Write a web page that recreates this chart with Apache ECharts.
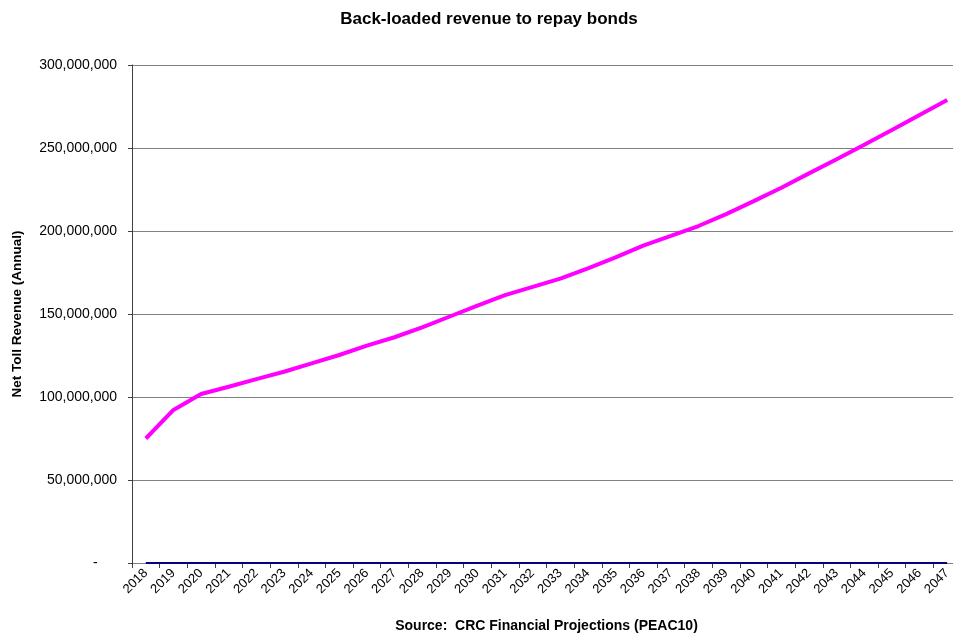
<!DOCTYPE html>
<html>
<head>
<meta charset="utf-8">
<script src="https://cdn.jsdelivr.net/npm/echarts@6/dist/echarts.min.js"></script>
<style>
html,body{margin:0;padding:0;background:#fff;overflow:hidden;}
#chart{width:953px;height:636px;}
</style>
</head>
<body>
<div id="chart"></div>
<script>
const years = ['2018','2019','2020','2021','2022','2023','2024','2025','2026','2027',
  '2028','2029','2030','2031','2032','2033','2034','2035','2036','2037',
  '2038','2039','2040','2041','2042','2043','2044','2045','2046','2047'];
const netTollRevenue = [75.0, 92.2, 101.8, 106.2, 110.8, 115.2, 120.3, 125.3, 130.9, 136.0,
  141.9, 148.5, 155.0, 161.4, 166.3, 171.3, 177.5, 184.1, 191.2, 197.0,
  203.0, 210.2, 218.0, 226.1, 234.7, 243.2, 252.0, 260.8, 269.9, 278.9].map(v => v * 1e6);
const baseline = [0,0,0,0,0,0,0,0,0,0,0,0,0,0,0,0,0,0,0,0,0,0,0,0,0,0,0,0,0,0];
const yTicks = { min: 0, max: 300000000, interval: 50000000 };

const chart = echarts.init(document.getElementById('chart'), null, { renderer: 'canvas' });
const fontFam = '"Liberation Sans", Arial, Helvetica, sans-serif';
chart.setOption({
  animation: false,
  backgroundColor: '#ffffff',
  title: {
    text: 'Back-loaded revenue to repay bonds',
    left: 484, top: 6, textAlign: 'center',
    textStyle: { fontFamily: fontFam, fontSize: 17, fontWeight: 'bold', color: '#000' }
  },
  grid: { left: 132, top: 65, width: 829, height: 498, containLabel: false, outerBoundsMode: 'none' },
  xAxis: {
    type: 'category',
    data: years,
    boundaryGap: true,
    name: 'Source:  CRC Financial Projections (PEAC10)',
    nameLocation: 'middle',
    nameGap: 56,
    nameTextStyle: { fontFamily: fontFam, fontSize: 14, fontWeight: 'bold', color: '#000' },
    axisLine: { show: true, lineStyle: { color: '#808080', width: 1 } },
    axisTick: { show: true, alignWithLabel: false, length: 5, lineStyle: { color: '#404040' } },
    axisLabel: { rotate: 45, interval: 0, margin: 8, fontFamily: fontFam, fontSize: 13, color: '#000' },
    splitLine: { show: false }
  },
  yAxis: {
    type: 'value',
    min: yTicks.min, max: yTicks.max, interval: yTicks.interval,
    name: 'Net Toll Revenue (Annual)',
    nameLocation: 'middle',
    nameGap: 108,
    nameTextStyle: { fontFamily: fontFam, fontSize: 13.5, fontWeight: 'bold', color: '#000' },
    axisLine: { show: true, lineStyle: { color: '#404040', width: 1 } },
    axisTick: { show: true, length: 4, lineStyle: { color: '#404040' } },
    axisLabel: {
      margin: 15, fontFamily: fontFam, fontSize: 14, color: '#000',
      formatter: v => v === 0 ? '-     ' : v.toLocaleString('en-US')
    },
    splitLine: { show: true, lineStyle: { color: '#808080', width: 1 } }
  },
  series: [
    {
      name: 'Baseline', type: 'line', data: baseline,
      symbol: 'none', lineStyle: { color: '#000080', width: 2 }, z: 3
    },
    {
      name: 'Net Toll Revenue', type: 'line', data: netTollRevenue,
      symbol: 'none', lineStyle: { color: '#FF00FF', width: 4 }, z: 4
    }
  ]
});
</script>
</body>
</html>
